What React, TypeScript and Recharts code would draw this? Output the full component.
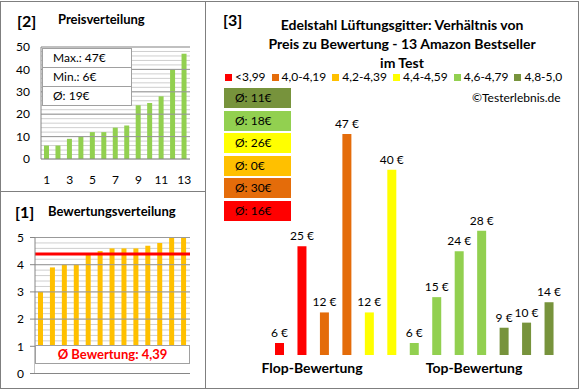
import React from "react";
import {
  BarChart,
  Bar,
  Cell,
  XAxis,
  YAxis,
  CartesianGrid,
  ReferenceLine,
  LabelList,
} from "recharts";

// [2] price distribution (sorted)
const positions = ["1", "2", "3", "4", "5", "6", "7", "8", "9", "10", "11", "12", "13"];
const sortedPrices = [6, 6, 9, 10, 12, 12, 14, 15, 24, 25, 28, 40, 47];
const priceTicks = [0, 2, 4, 6, 8, 10, 12, 14, 16, 18, 20, 22, 24, 26, 28, 30, 32, 34, 36, 38, 40, 42, 44, 46, 48, 50];
const priceMajor = [10, 20, 30, 40, 50];

// [1] rating distribution
const ratings = [3.0, 3.9, 4.0, 4.0, 4.4, 4.5, 4.6, 4.6, 4.6, 4.7, 4.8, 5.0, 5.0];
const ratingTicks = [0, 0.2, 0.4, 0.6, 0.8, 1, 1.2, 1.4, 1.6, 1.8, 2, 2.2, 2.4, 2.6, 2.8, 3, 3.2, 3.4, 3.6, 3.8, 4, 4.2, 4.4, 4.6, 4.8, 5];
const ratingMajor = [1, 2, 3, 4, 5];
const avgRating = 4.39;

// [3] price vs. rating band
const bandLabels = ["<3,99", "4,0-4,19", "4,2-4,39", "4,4-4,59", "4,6-4,79", "4,8-5,0"];
const bandColors = ["#FF0000", "#E46C0A", "#FFC000", "#FFFF00", "#92D050", "#77933C"];
const bandAverages = [16, 30, 0, 26, 18, 11];
const productPrices = [6, 25, 12, 47, 12, 40, 6, 15, 24, 28, 9, 10, 14];
const productBands = [0, 0, 1, 1, 3, 3, 4, 4, 4, 4, 5, 5, 5];

const priceData = positions.map((p, i) => ({ pos: p, price: sortedPrices[i] }));
const ratingData = positions.map((p, i) => ({ pos: p, rating: ratings[i] }));
const productData = positions.map((p, i) => ({ pos: p, price: productPrices[i], band: productBands[i] }));

const statLines = [
  `Max.: ${Math.max(...sortedPrices)}€`,
  `Min.: ${Math.min(...sortedPrices)}€`,
  `Ø: ${Math.round(sortedPrices.reduce((a, b) => a + b, 0) / sortedPrices.length)}€`,
];

const FONT = "Lato, 'Open Sans', sans-serif";
const LINE = "#7f7f7f";

const abs = (left: number, top: number, extra: React.CSSProperties = {}): React.CSSProperties => ({
  position: "absolute",
  left,
  top,
  ...extra,
});

const RatingTick = (props: any) => {
  const { x, y, payload } = props;
  if (!Number.isInteger(payload.value)) return null;
  return (
    <g>
      <line x1={x + 2} x2={x + 7} y1={y} y2={y} stroke="#868686" />
      <text x={x - 4} y={y} dy="0.35em" textAnchor="end" fontSize={12} fill="#000">
        {payload.value}
      </text>
    </g>
  );
};

const PriceLabel = (props: any) => {
  const { x, y, width, value } = props;
  return (
    <text x={x + width / 2} y={y - 6} textAnchor="middle" fontSize={12} fill="#000">
      {`${value} €`}
    </text>
  );
};

export default function App() {
  return (
    <div style={{ position: "relative", width: 580, height: 390, fontFamily: FONT, color: "#000", background: "#fff" }}>
      <style>{"body{margin:0}"}</style>
      {/* frame */}
      <div style={abs(0, 1, { width: 579, height: 388, border: `1px solid ${LINE}`, boxSizing: "border-box" })} />
      <div style={abs(205, 1, { width: 1, height: 388, background: LINE })} />
      <div style={abs(0, 191, { width: 205, height: 1, background: LINE })} />

      {/* [2] Preisverteilung */}
      <div style={abs(0, 0)}>
        <BarChart width={205} height={191} data={priceData} margin={{ top: 47, right: 15, bottom: 2, left: 0 }}>
          <CartesianGrid vertical={false} stroke="#cfcfcf" />
          {priceMajor.map((v) => (
            <ReferenceLine key={v} y={v} stroke="#999" />
          ))}
          <XAxis dataKey="pos" interval={1} tickLine={false} axisLine={{ stroke: "#868686" }} height={30} tickMargin={10} tick={{ fill: "#000", fontSize: 12 }} />
          <YAxis width={41} domain={[0, 50]} ticks={priceTicks} interval={0} tickLine={false} axisLine={{ stroke: "#868686" }} tickMargin={5} tick={{ fill: "#000", fontSize: 12 }} tickFormatter={(v: number) => (v % 10 === 0 ? String(v) : "")} />
          <Bar dataKey="price" fill="#92D050" barSize={5} isAnimationActive={false} />
        </BarChart>
      </div>
      <div style={abs(17, 11, { fontSize: 16, fontWeight: 700 })}>[2]</div>
      <div style={abs(58, 11, { fontSize: 13, fontWeight: 700 })}>Preisverteilung</div>
      <div style={abs(42, 48, { width: 90, background: "#fff", border: "1px solid #a0a0a0", boxSizing: "border-box" })}>
        {statLines.map((s, i) => (
          <div key={i} style={{ height: 18, lineHeight: "18px", paddingLeft: 10, fontSize: 12, borderTop: i ? "1px solid #a0a0a0" : "none" }}>
            {s}
          </div>
        ))}
      </div>

      {/* [1] Bewertungsverteilung */}
      <div style={abs(0, 191)}>
        <BarChart width={205} height={197} data={ratingData} margin={{ top: 46.5, right: 15, bottom: 14.5, left: 0 }}>
          <CartesianGrid vertical={false} stroke="#cfcfcf" />
          {ratingMajor.map((v) => (
            <ReferenceLine key={v} y={v} stroke="#999" />
          ))}
          <XAxis dataKey="pos" hide />
          <YAxis width={35} domain={[0, 5]} ticks={ratingTicks} interval={0} tickSize={5} tickMargin={2} tickLine={false} axisLine={{ stroke: "#868686" }} tick={<RatingTick />} />
          <Bar dataKey="rating" fill="#FFC000" barSize={5} isAnimationActive={false} />
          <ReferenceLine y={avgRating} stroke="#FF0000" strokeWidth={3} />
          <ReferenceLine y={0} stroke="#868686" />
        </BarChart>
      </div>
      <div style={abs(15, 202, { fontSize: 16, fontWeight: 700 })}>[1]</div>
      <div style={abs(48, 203, { fontSize: 13, fontWeight: 700 })}>Bewertungsverteilung</div>
      <div style={abs(35, 345, { width: 155, height: 28, background: "#fff" })} />
      <div style={abs(35, 345, { width: 155, height: 19, border: "1px solid #a0a0a0", boxSizing: "border-box", textAlign: "center", lineHeight: "17px", fontSize: 13, fontWeight: 700, color: "#FF0000" })}>
        Ø Bewertung: 4,39
      </div>

      {/* [3] Preis zu Bewertung */}
      <div style={abs(205, 0)}>
        <BarChart width={375} height={388} data={productData} margin={{ top: 134, right: 20, bottom: 33, left: 63 }}>
          <XAxis dataKey="pos" hide />
          <YAxis hide domain={[3.65, 47]} allowDataOverflow />
          <Bar dataKey="price" barSize={9} isAnimationActive={false}>
            {productData.map((d, i) => (
              <Cell key={i} fill={bandColors[d.band]} />
            ))}
            <LabelList dataKey="price" content={<PriceLabel />} />
          </Bar>
        </BarChart>
      </div>
      <div style={abs(223, 10, { fontSize: 16, fontWeight: 700 })}>[3]</div>
      <div style={abs(252, 15, { width: 300, textAlign: "center", fontSize: 14, fontWeight: 700, lineHeight: "19px" })}>
        <div>Edelstahl Lüftungsgitter: Verhältnis von</div>
        <div>Preis zu Bewertung - 13 Amazon Bestseller</div>
        <div>im Test</div>
      </div>
      <div style={abs(225, 69, { display: "flex", gap: 6, fontSize: 12, lineHeight: "16px", whiteSpace: "nowrap" })}>
        {bandLabels.map((l, i) => (
          <div key={i} style={{ display: "flex", alignItems: "center" }}>
            <span style={{ display: "inline-block", width: 7, height: 7, background: bandColors[i], marginRight: 3 }} />
            {l}
          </div>
        ))}
      </div>
      <div style={abs(472, 90, { fontSize: 12 })}>©Testerlebnis.de</div>
      {bandLabels.map((_, k) => {
        const i = bandLabels.length - 1 - k;
        return (
          <div key={i} style={abs(224, 88 + k * 22.5, { width: 67, height: 20, background: bandColors[i], fontSize: 12, lineHeight: "20px", paddingLeft: 11, boxSizing: "border-box" })}>
            Ø: {bandAverages[i]}€
          </div>
        );
      })}
      <div style={abs(252, 359, { width: 120, textAlign: "center", fontSize: 14, fontWeight: 700, whiteSpace: "nowrap" })}>Flop-Bewertung</div>
      <div style={abs(414, 359, { width: 120, textAlign: "center", fontSize: 14, fontWeight: 700, whiteSpace: "nowrap" })}>Top-Bewertung</div>
    </div>
  );
}
